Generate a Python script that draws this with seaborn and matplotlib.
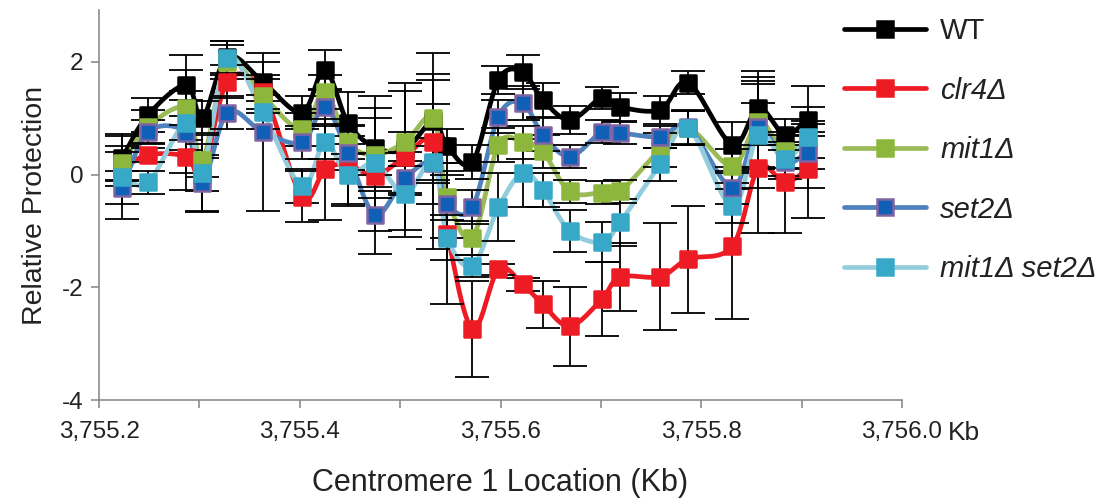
import numpy as np
import matplotlib
matplotlib.use('Agg')
import matplotlib.pyplot as plt
import seaborn as sns
from matplotlib.lines import Line2D
from matplotlib.ticker import FuncFormatter, MultipleLocator

# positions along centromere 1 (kb)
location = [3755.223, 3755.249, 3755.287, 3755.303, 3755.328, 3755.363, 3755.402,
            3755.425, 3755.448, 3755.475, 3755.505, 3755.533, 3755.547, 3755.572,
            3755.598, 3755.622, 3755.642, 3755.669, 3755.701, 3755.719, 3755.759,
            3755.787, 3755.831, 3755.857, 3755.883, 3755.906]

wt = [0.3, 1.06, 1.59, 1.0, 2.09, 1.65, 1.1, 1.86, 0.92, 0.48, 0.45, 0.95, 0.5,
      0.22, 1.68, 1.82, 1.33, 0.97, 1.36, 1.2, 1.15, 1.63, 0.53, 1.18, 0.71, 0.97]
clr4 = [0.1, 0.35, 0.32, 0.0, 1.65, 1.47, -0.39, 0.09, 0.18, -0.02, 0.32, 0.58, -1.05,
        -2.74, -1.68, -1.95, -2.3, -2.69, -2.21, -1.82, -1.81, -1.5, -1.27, 0.12, -0.14, 0.09]
mit1 = [0.2, 0.85, 1.18, 0.25, 2.0, 1.4, 0.8, 1.47, 0.57, 0.35, 0.58, 1.0, -0.4,
        -1.12, 0.53, 0.57, 0.41, -0.3, -0.32, -0.3, 0.44, 0.83, 0.15, 0.94, 0.41, 0.6]
set2 = [-0.23, 0.76, 0.74, -0.15, 1.1, 0.76, 0.57, 1.2, 0.38, -0.71, -0.06, 0.21, -0.53,
        -0.58, 1.03, 1.27, 0.71, 0.32, 0.76, 0.74, 0.67, 0.85, -0.23, 0.85, 0.22, 0.39]
mit1_set2 = [-0.05, -0.14, 0.92, 0.03, 2.07, 1.11, -0.21, 0.57, 0.0, 0.2, -0.35, 0.23, -1.12,
             -1.62, -0.58, 0.03, -0.27, -1.0, -1.2, -0.85, 0.18, 0.83, -0.56, 0.71, 0.27, 0.67]

# error bars (estimated)
wt_err = [0.42, 0.3, 0.27, 0.3, 0.28, 0.35, 0.3, 0.35, 0.55, 0.7, 0.3, 0.3, 0.3,
          0.3, 0.25, 0.3, 0.3, 0.25, 0.2, 0.25, 0.25, 0.2, 0.4, 0.65, 0.27, 0.22]
clr4_err = [0.3, 0.13, 0.3, 0.3, 0.3, 0.3, 0.45, 0.9, 0.7, 0.4, 1.3, 1.1, 1.25,
            0.85, 0.1, 0.12, 0.42, 0.7, 0.65, 0.6, 0.95, 0.95, 1.3, 1.15, 0.89, 0.86]
mit1_err = [0.3, 0.3, 0.3, 0.3, 0.3, 0.3, 0.3, 0.3, 0.3, 0.65, 0.9, 1.15, 0.4,
            0.3, 0.3, 0.3, 0.3, 0.2, 0.2, 0.2, 0.3, 0.3, 0.3, 0.8, 0.3, 0.3]
set2_err = [0.3, 0.2, 0.3, 0.5, 0.3, 1.4, 0.3, 0.3, 0.3, 0.7, 0.3, 0.3, 0.6,
            0.3, 0.3, 0.3, 0.3, 0.2, 0.2, 0.2, 0.2, 0.3, 0.3, 0.75, 0.3, 0.3]
mit1_set2_err = [0.73, 0.2, 1.2, 0.7, 0.3, 0.3, 0.3, 0.3, 0.55, 1.2, 0.75, 1.55, 0.4,
                 0.2, 0.6, 0.6, 0.3, 0.38, 0.35, 0.42, 0.3, 0.3, 0.3, 0.95, 0.3, 0.9]

labels = ['WT', 'clr4Δ', 'mit1Δ', 'set2Δ', 'mit1Δ set2Δ']
line_colors = ['#000000', '#ED1C24', '#9BBB59', '#4F81BD', '#93CDDD']
face_colors = ['#000000', '#ED1C24', '#8DB63C', '#1060B8', '#38A8C8']
edge_colors = ['#000000', '#ED1C24', '#8DB63C', '#8064A2', '#38A8C8']


def smooth(x, y, n=12):
    # catmull-rom curve through the points, like Excel's smoothed line
    x = np.asarray(x); y = np.asarray(y)
    px = np.concatenate([[2 * x[0] - x[1]], x, [2 * x[-1] - x[-2]]])
    py = np.concatenate([[2 * y[0] - y[1]], y, [2 * y[-1] - y[-2]]])
    t = np.linspace(0, 1, n, endpoint=False)[:, None]
    xs, ys = [], []
    for i in range(1, len(px) - 2):
        for p, out in ((px, xs), (py, ys)):
            p0, p1, p2, p3 = p[i - 1], p[i], p[i + 1], p[i + 2]
            out.append((0.5 * (2 * p1 + (-p0 + p2) * t + (2 * p0 - 5 * p1 + 4 * p2 - p3) * t ** 2
                               + (-p0 + 3 * p1 - 3 * p2 + p3) * t ** 3)).ravel())
    xs.append([x[-1]]); ys.append([y[-1]])
    return np.concatenate(xs), np.concatenate(ys)


sns.set_style('white')
plt.rcParams['font.family'] = ['Liberation Sans', 'DejaVu Sans']

fig = plt.figure(figsize=(11.09, 4.98), dpi=100)
ax = fig.add_axes([99 / 1109, 1 - 400 / 498, (902 - 99) / 1109, 390 / 498])

series = [wt, clr4, mit1, set2, mit1_set2]
errors = [wt_err, clr4_err, mit1_err, set2_err, mit1_set2_err]

for i, (vals, err) in enumerate(zip(series, errors)):
    sx, sy = smooth(location, vals)
    sns.lineplot(x=sx, y=sy, color=line_colors[i], linewidth=3.4, ax=ax,
                 sort=False, estimator=None, zorder=3 + i * 0.1)
    ax.errorbar(location, vals, yerr=err, fmt='none', ecolor='black',
                elinewidth=1.3, capsize=12, capthick=1.3, zorder=3.5 + i * 0.1)
    sns.scatterplot(x=location, y=vals, marker='s', s=130, color=face_colors[i],
                    edgecolor=edge_colors[i], linewidth=1.8, ax=ax, zorder=4 + i * 0.1)

ax.set_xlim(3755.2, 3756.0)
ax.set_ylim(-4, 2.92)
ax.xaxis.set_major_locator(MultipleLocator(0.2))
ax.xaxis.set_minor_locator(MultipleLocator(0.1))
ax.xaxis.set_major_formatter(FuncFormatter(lambda v, p: f'{v:,.1f}'))
ax.set_yticks([-4, -2, 0, 2])
ax.set_yticklabels(['-4', '-2', '0', '2'])

for s in ['top', 'right']:
    ax.spines[s].set_visible(False)
for s in ['left', 'bottom']:
    ax.spines[s].set_color('#8C8C8C')
    ax.spines[s].set_linewidth(1.2)

ax.tick_params(axis='both', which='both', direction='out', length=6, width=1.2,
               color='#8C8C8C', labelsize=17.5, labelcolor='#222222')
ax.tick_params(axis='x', which='both', bottom=True, pad=9)
ax.tick_params(axis='y', left=True, pad=5)

ax.annotate('Kb', xy=(3756.0, 0), xycoords=ax.get_xaxis_transform(),
            xytext=(33, -15), textcoords='offset points', ha='left', va='top',
            fontsize=19, color='#222222')

ax.set_xlabel('Centromere 1 Location (Kb)', fontsize=22, color='#222222', labelpad=18)
ax.set_ylabel('Relative Protection', fontsize=20.5, color='#222222', labelpad=10)

handles = [Line2D([], [], color=line_colors[i], linewidth=3.4, marker='s', markersize=11.5,
                  markerfacecolor=face_colors[i], markeredgecolor=edge_colors[i],
                  markeredgewidth=1.8) for i in range(5)]
leg = fig.legend(handles, labels, loc='upper left', bbox_to_anchor=(0.748, 0.995),
                 frameon=False, fontsize=21, handlelength=2.8, labelspacing=1.08,
                 handletextpad=0.5, borderpad=0)
for t in leg.get_texts()[1:]:
    t.set_fontstyle('italic')
for t in leg.get_texts():
    t.set_color('#222222')

fig.savefig('out.png', dpi=100)
